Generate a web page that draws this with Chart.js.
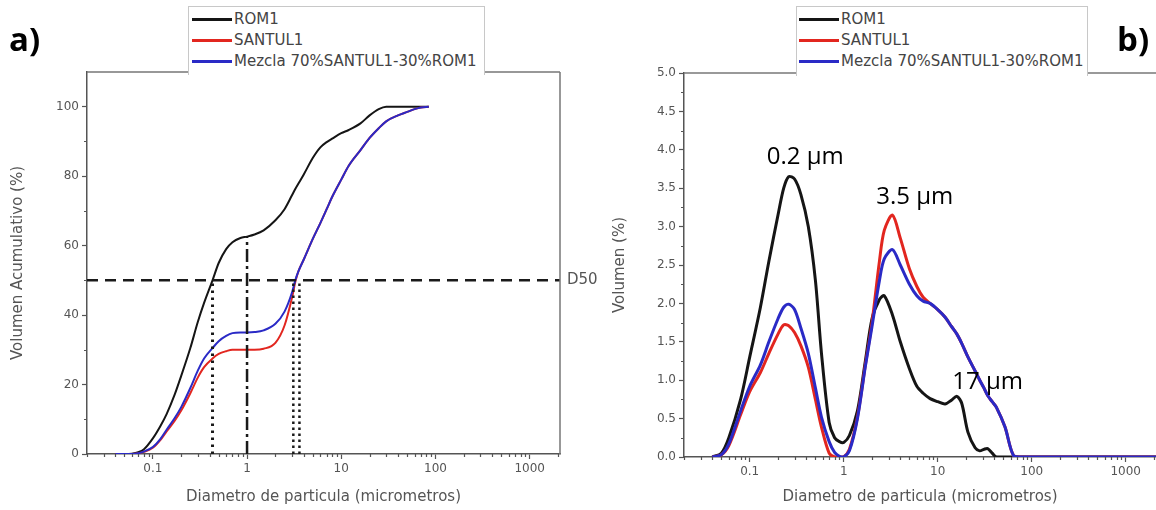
<!DOCTYPE html>
<html>
<head>
<meta charset="utf-8">
<script src="https://cdn.jsdelivr.net/npm/chart.js@4.4.1/dist/chart.umd.min.js"></script>
<style>
  body { margin: 0; background: #fff; }
  #page { position: relative; width: 1156px; height: 510px; overflow: hidden; background: #fff; }
  canvas { position: absolute; top: 0; }
  #cumChart { left: 0; }
  #freqChart { left: 600px; }
  .legend { position: absolute; background: #fff; border: 1px solid #c8c8c8; border-bottom: none;
            font-family: "DejaVu Sans", sans-serif; font-size: 15px; color: #444; line-height: 21px; }
  .legend .row { display: flex; align-items: center; white-space: nowrap; }
  .legend .sw { display: inline-block; width: 40px; height: 3px; margin-right: 2px; }
  .panel { position: absolute; font-family: "Open Sans", sans-serif; font-weight: bold; font-size: 33px; color: #000; }
</style>
</head>
<body>
<div id="page">
  <canvas id="cumChart" width="600" height="510"></canvas>
  <canvas id="freqChart" width="556" height="510"></canvas>
  <div class="panel" style="left:9px;top:16px;">a)</div>
  <div class="panel" style="left:1117px;top:16px;">b)</div>
  <div class="legend" id="legA" style="left:188px;top:6px;width:292px;height:66px;padding:2px 0 0 3px;"></div>
  <div class="legend" id="legB" style="left:796px;top:6px;width:288px;height:67px;padding:2px 0 0 2px;"></div>
</div>
<script>
// ---- data: cumulative volume (a) ----
const cumDiam    = [0.04, 0.05, 0.06, 0.07, 0.08, 0.1, 0.12, 0.14, 0.17, 0.2, 0.25, 0.3, 0.35, 0.43, 0.5, 0.6, 0.7, 0.85, 1, 1.2, 1.5, 2, 2.5, 3, 3.25, 3.5, 4, 5, 6, 7, 8, 10, 12, 16, 20, 25, 30, 40, 50, 60, 70, 85];
const cumRom1    = [0, 0, 0.1, 0.5, 1.3, 4.5, 8, 11.5, 17, 22.5, 30.5, 38, 43.5, 50, 55, 59, 61, 62.2, 62.6, 63.2, 64.4, 67.3, 70.5, 74.5, 76.3, 77.8, 80.5, 85.3, 88.3, 89.8, 90.8, 92.4, 93.3, 95.2, 97.5, 99.3, 100, 100, 100, 100, 100, 100];
const cumSantul1 = [0, 0, 0, 0.2, 0.6, 1.8, 4, 6.5, 9.5, 12.5, 17.5, 22, 25, 27.5, 28.8, 29.6, 30, 30, 30, 30, 30.3, 32, 37, 45, 49.5, 52.5, 56, 62, 66.5, 70.5, 74, 79, 83, 87.5, 91, 93.8, 95.8, 97.5, 98.5, 99.3, 99.8, 100];
const cumMezcla  = [0, 0, 0, 0.2, 0.7, 2, 4.3, 7, 10.3, 13.5, 19, 24, 27.5, 30.5, 32.5, 34, 34.8, 35, 35, 35.1, 35.6, 37.5, 41, 46.5, 50, 52.5, 56, 62, 66.5, 70.5, 74, 79, 83, 87.5, 91, 93.8, 95.8, 97.5, 98.5, 99.3, 99.8, 100];

// D50 guide lines
const d50Level = 50;
const d50Rom1 = 0.43;
const d50Mid = 1;
const d50MidTop = 62.6;
const d50Mezcla = [3.1, 3.6];

// ---- data: volume frequency (b) ----
const freqDiam    = [0.04, 0.05, 0.06, 0.08, 0.1, 0.13, 0.16, 0.2, 0.23, 0.26, 0.3, 0.35, 0.42, 0.5, 0.58, 0.7, 0.8, 0.9, 1, 1.15, 1.4, 1.7, 2, 2.4, 2.7, 3.3, 4, 5, 6, 7, 8.3, 10, 12, 14, 16, 18, 21, 25, 28, 31, 34, 38, 42, 52, 64, 80, 2100];
const freqRom1    = [0, 0.05, 0.25, 0.75, 1.3, 1.95, 2.55, 3.15, 3.5, 3.65, 3.62, 3.42, 3.0, 2.3, 1.35, 0.45, 0.25, 0.2, 0.19, 0.28, 0.6, 1.25, 1.8, 2.05, 2.1, 1.85, 1.5, 1.15, 0.92, 0.83, 0.76, 0.72, 0.69, 0.74, 0.79, 0.7, 0.32, 0.12, 0.08, 0.1, 0.11, 0.05, 0, 0, 0, 0, 0];
const freqSantul1 = [0, 0.03, 0.15, 0.55, 0.85, 1.1, 1.35, 1.6, 1.72, 1.71, 1.62, 1.45, 1.17, 0.75, 0.39, 0.05, 0, 0, 0, 0.1, 0.52, 1.2, 1.75, 2.55, 2.95, 3.15, 2.85, 2.45, 2.22, 2.08, 2.0, 1.92, 1.82, 1.7, 1.6, 1.48, 1.3, 1.12, 1.0, 0.9, 0.8, 0.72, 0.65, 0.39, 0.02, 0, 0];
const freqMezcla  = [0, 0.03, 0.17, 0.6, 0.92, 1.2, 1.5, 1.8, 1.95, 1.99, 1.92, 1.68, 1.35, 0.9, 0.52, 0.2, 0.06, 0.01, 0, 0.08, 0.5, 1.18, 1.7, 2.3, 2.58, 2.7, 2.5, 2.25, 2.1, 2.03, 2.0, 1.92, 1.82, 1.7, 1.6, 1.48, 1.3, 1.12, 1.0, 0.9, 0.8, 0.72, 0.65, 0.39, 0.02, 0, 0];

// ---- axes ----
const xTicks = [0.1, 1, 10, 100, 1000];
const cumTicks = [0, 20, 40, 60, 80, 100];
const cumMinor = [10, 30, 50, 70, 90];
const freqTicks = [0, 0.5, 1, 1.5, 2, 2.5, 3, 3.5, 4, 4.5, 5];
const freqMinor = [0.25, 0.75, 1.25, 1.75, 2.25, 2.75, 3.25, 3.75, 4.25, 4.75];

const seriesNames = ['ROM1', 'SANTUL1', 'Mezcla 70%SANTUL1-30%ROM1'];
const seriesColors = ['#151515', '#e2261f', '#2a2ac6'];

const peakLabels = [
  { text: '0.2 µm', x: 0.39, y: 3.9 },
  { text: '3.5 µm', x: 5.7, y: 3.38 },
  { text: '17 µm', x: 34, y: 0.97 }
];

const X_MIN = 0.02, X_MAX = 2100;
const xMinor = [];
[0.01, 0.1, 1, 10, 100, 1000].forEach(dec => {
  for (let m = 2; m <= 9; m++) {
    const v = +(dec * m).toPrecision(3);
    if (v >= X_MIN && v <= X_MAX) xMinor.push(v);
  }
});

function pts(xs, ys) {
  return xs.map((x, i) => ({ x: x, y: ys[i] }));
}

function curve(label, xs, ys, i, width, smooth) {
  const ds = {
    label: label,
    data: pts(xs, ys),
    borderColor: seriesColors[i],
    borderWidth: width,
    pointRadius: 0,
    fill: false,
    order: 3 - i
  };
  if (smooth) {
    ds.tension = smooth;
  } else {
    ds.cubicInterpolationMode = 'monotone';
  }
  return ds;
}

function guide(xs, ys, dash, width) {
  return {
    data: pts(xs, ys),
    borderColor: '#1a1a1a',
    borderWidth: width,
    borderDash: dash,
    pointRadius: 0,
    fill: false,
    tension: 0,
    order: 0
  };
}

const tickFont = { family: 'DejaVu Sans', size: 12 };
const titleFont = { family: 'DejaVu Sans', size: 15 };
const axisGrey = '#555';

// frame, minor ticks and text labels
const decor = {
  id: 'decor',
  afterDraw(chart, args, opts) {
    const { ctx, chartArea: a, scales } = chart;
    const x = scales.x, y = scales.y;
    ctx.save();
    ctx.strokeStyle = '#777';
    ctx.lineWidth = 1.5;
    ctx.beginPath();
    ctx.moveTo(a.left, a.top);
    ctx.lineTo(a.right, a.top);
    if (opts.rightFrame) {
      ctx.moveTo(a.right, a.top);
      ctx.lineTo(a.right, a.bottom);
    }
    ctx.stroke();

    ctx.strokeStyle = axisGrey;
    ctx.lineWidth = 1.2;
    ctx.beginPath();
    xMinor.forEach(v => {
      const px = Math.round(x.getPixelForValue(v)) + 0.5;
      ctx.moveTo(px, a.bottom);
      ctx.lineTo(px, a.bottom + 3);
    });
    opts.yMinor.forEach(v => {
      const py = Math.round(y.getPixelForValue(v)) + 0.5;
      ctx.moveTo(a.left, py);
      ctx.lineTo(a.left - 3, py);
    });
    ctx.stroke();

    (opts.labels || []).forEach(l => {
      ctx.font = l.font;
      ctx.fillStyle = l.color;
      ctx.textAlign = l.align;
      ctx.textBaseline = 'middle';
      const px = l.px !== undefined ? l.px(a) : x.getPixelForValue(l.x);
      ctx.fillText(l.text, px, y.getPixelForValue(l.y));
    });
    ctx.restore();
  }
};

function xScale() {
  return {
    type: 'logarithmic',
    min: X_MIN,
    max: X_MAX,
    afterBuildTicks: s => { s.ticks = xTicks.map(v => ({ value: v })); },
    ticks: { font: tickFont, color: axisGrey, padding: 3, autoSkip: false, maxRotation: 0,
             callback: v => String(v) },
    grid: { drawOnChartArea: false, tickLength: 5, color: axisGrey, tickWidth: 1.2 },
    border: { color: axisGrey, width: 1.5 },
    title: { display: true, text: 'Diametro de particula (micrometros)', font: titleFont, color: '#555',
             padding: { top: 0, bottom: 4 } }
  };
}

Chart.defaults.font.family = 'DejaVu Sans';

new Chart(document.getElementById('cumChart'), {
  type: 'line',
  data: {
    datasets: [
      guide([X_MIN, X_MAX], [d50Level, d50Level], [11, 7], 2.5),
      guide([d50Rom1, d50Rom1], [0, d50Level], [2.5, 4.5], 3),
      guide([d50Mid, d50Mid], [0, d50MidTop], [13, 4, 3, 4], 2.5),
      guide([d50Mezcla[0], d50Mezcla[0]], [0, d50Level], [2.5, 3.5], 2.5),
      guide([d50Mezcla[1], d50Mezcla[1]], [0, d50Level], [2.5, 3.5], 2.5),
      curve(seriesNames[0], cumDiam, cumRom1, 0, 2),
      curve(seriesNames[1], cumDiam, cumSantul1, 1, 2),
      curve(seriesNames[2], cumDiam, cumMezcla, 2, 2)
    ]
  },
  options: {
    responsive: false,
    animation: false,
    layout: { padding: { left: 0, top: 72, right: 40, bottom: 0 } },
    plugins: {
      legend: { display: false },
      tooltip: { enabled: false },
      decor: {
        rightFrame: true,
        yMinor: cumMinor,
        labels: [{ text: 'D50', y: d50Level, px: a => a.right + 7, font: '15px "DejaVu Sans"', color: '#555', align: 'left' }]
      }
    },
    scales: {
      x: Object.assign(xScale(), { afterFit: s => { s.height = 56; } }),
      y: {
        min: 0,
        max: 110,
        afterBuildTicks: s => { s.ticks = cumTicks.map(v => ({ value: v })); },
        afterFit: s => { s.width = 87; },
        ticks: { font: tickFont, color: axisGrey, padding: 3 },
        grid: { drawOnChartArea: false, tickLength: 5, color: axisGrey, tickWidth: 1.2 },
        border: { color: axisGrey, width: 1.5 },
        title: { display: true, text: 'Volumen Acumulativo (%)', font: titleFont, color: '#555',
                 padding: { top: 9, bottom: 0 } }
      }
    }
  },
  plugins: [decor]
});

new Chart(document.getElementById('freqChart'), {
  type: 'line',
  data: {
    datasets: [
      curve(seriesNames[0], freqDiam, freqRom1, 0, 3, 0.3),
      curve(seriesNames[1], freqDiam, freqSantul1, 1, 3, 0.3),
      curve(seriesNames[2], freqDiam, freqMezcla, 2, 3, 0.3)
    ]
  },
  options: {
    responsive: false,
    animation: false,
    layout: { padding: { left: 0, top: 73, right: 0, bottom: 0 } },
    plugins: {
      legend: { display: false },
      tooltip: { enabled: false },
      decor: {
        rightFrame: false,
        yMinor: freqMinor,
        labels: peakLabels.map(p => ({ text: p.text, x: p.x, y: p.y, font: '24px "Open Sans"', color: '#000', align: 'center' }))
      }
    },
    scales: {
      x: Object.assign(xScale(), { afterFit: s => { s.height = 53; } }),
      y: {
        min: 0,
        max: 5,
        afterBuildTicks: s => { s.ticks = freqTicks.map(v => ({ value: v })); },
        afterFit: s => { s.width = 84; },
        ticks: { font: tickFont, color: axisGrey, padding: 3, callback: v => v.toFixed(1) },
        grid: { drawOnChartArea: false, tickLength: 5, color: axisGrey, tickWidth: 1.2 },
        border: { color: axisGrey, width: 1.5 },
        title: { display: true, text: 'Volumen (%)', font: titleFont, color: '#555',
                 padding: { top: 11, bottom: 0 } }
      }
    }
  },
  plugins: [decor]
});

// legends (same entries on both panels)
['legA', 'legB'].forEach(id => {
  const box = document.getElementById(id);
  seriesNames.forEach((name, i) => {
    const row = document.createElement('div');
    row.className = 'row';
    const sw = document.createElement('span');
    sw.className = 'sw';
    sw.style.background = seriesColors[i];
    row.appendChild(sw);
    row.appendChild(document.createTextNode(name));
    box.appendChild(row);
  });
});
</script>
</body>
</html>
